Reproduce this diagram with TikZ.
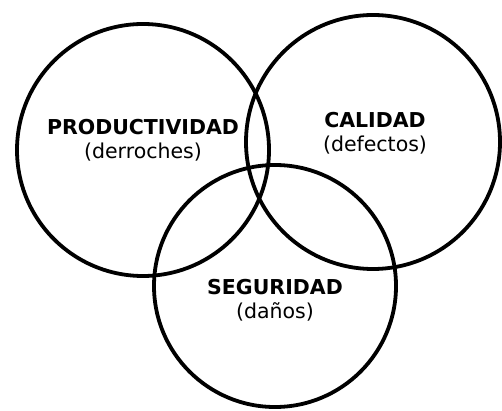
\documentclass[tikz,border=0pt]{standalone}
\usepackage{fontspec}
\setmainfont{DejaVu Sans}
\tikzset{
  zona/.style={circle, draw, black},
  rotulo/.style={align=center, font=\fontsize{20.5}{23.5}\selectfont},
}
\begin{document}
\begin{tikzpicture}[x=1pt,y=-1pt,line width=3.8pt, outer sep=0pt,inner sep=0pt]
    \useasboundingbox (0,0) rectangle (502,411);
    \foreach \n/\x/\y/\d in {prod/143/150/252, cal/373/142/254, seg/275/286/242}
        \node[zona, minimum size=\d pt] (\n) at (\x,\y) {};

    \node[rotulo] (prodtxt) at (143,140) {\textbf{PRODUCTIVIDAD}\\(derroches)};
    \node[rotulo] (caltxt) at (375,133) {\textbf{CALIDAD}\\(defectos)};
    \node[rotulo] (segtxt) at (275,300) {\textbf{SEGURIDAD}\\(daños)};
\end{tikzpicture}
\end{document}
